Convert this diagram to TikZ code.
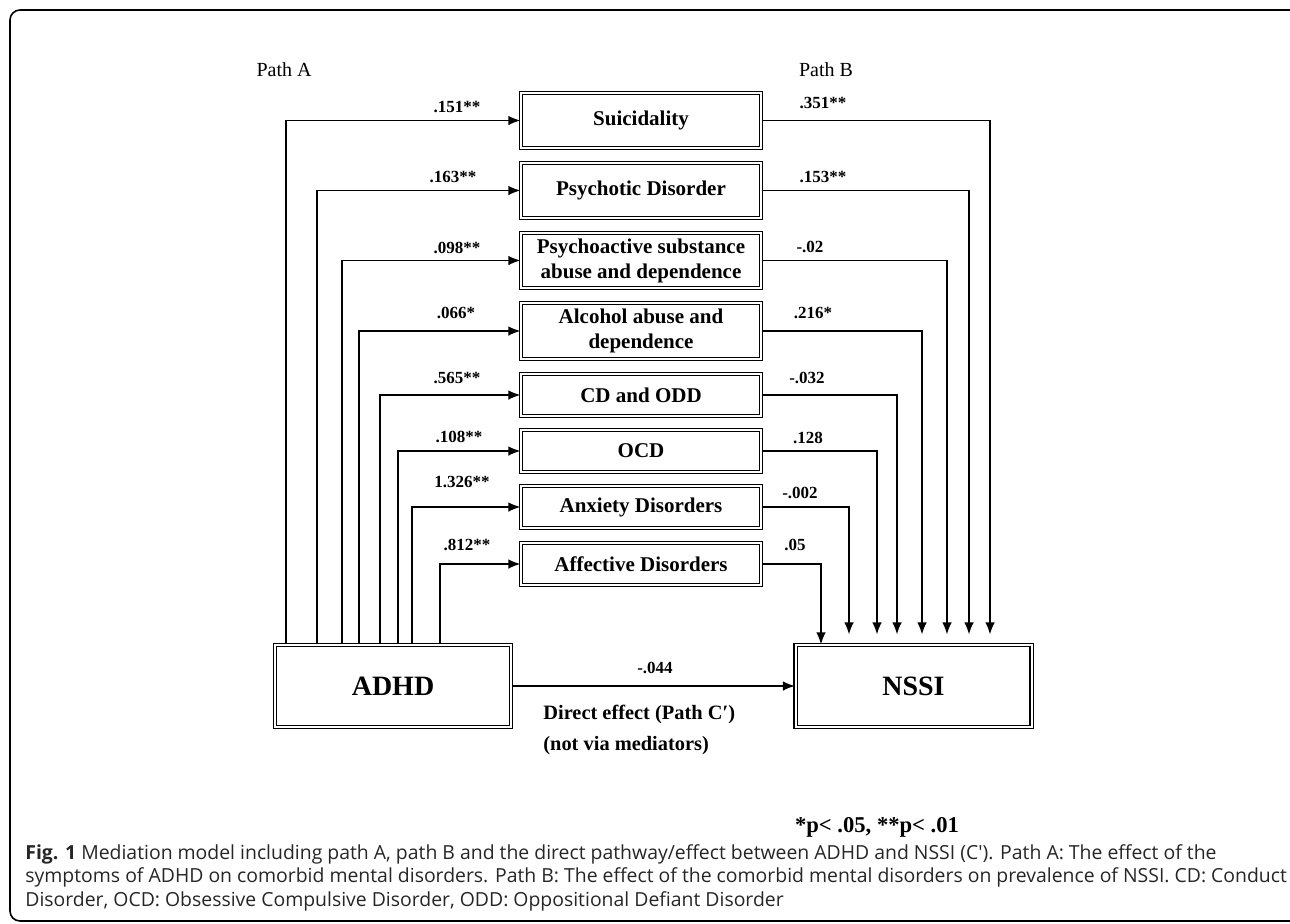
\documentclass[tikz,border=0pt]{standalone}
\usepackage{fontspec}
\setmainfont{Liberation Serif}
\newfontfamily\captionfont{Open Sans}
\usetikzlibrary{arrows.meta}

\tikzset{
  mediator/.style={
    draw,
    double,
    double distance=1pt,
    line width=0.6pt,
    minimum width=120pt,
    inner sep=0pt,
    align=center,
    font=\fontsize{10.5}{12.5}\selectfont\bfseries
  },
  outcome/.style={
    mediator,
    minimum width=118pt,
    minimum height=41pt,
    font=\fontsize{14}{16}\selectfont\bfseries
  },
  patha/.style={line width=0.75pt, -{Latex[length=6pt,width=4.8pt]}},
  pathb/.style={patha, shorten >=5pt},
  coef/.style={inner sep=0pt, font=\fontsize{8.5}{10}\selectfont\bfseries},
  pathtitle/.style={inner sep=0pt, font=\fontsize{10}{12}\selectfont}
}

\begin{document}
\begin{tikzpicture}[x=0.5pt, y=-0.5pt]
  \useasboundingbox (0,0) rectangle (1290,923);
  \draw[line width=0.8pt, rounded corners=5pt] (10,10) rectangle (1320,921);

  \node[pathtitle] (titlea) at (284,70) {Path A};
  \node[pathtitle] (titleb) at (826,70) {Path B};

  % exposure and outcome
  \node[outcome] (adhd) at (393,686) {ADHD};
  \node[outcome] (nssi) at (913.5,686) {NSSI};

  % mediators
  \foreach \name/\y/\h/\txt in {
      suic/120.5/27.5pt/Suicidality,
      psyc/190.5/27.5pt/Psychotic Disorder,
      subst/260.5/27.5pt/{Psychoactive substance\\abuse and dependence},
      alc/331/28pt/{Alcohol abuse and\\dependence},
      cdodd/395/21pt/CD and ODD,
      ocd/451/21pt/OCD,
      anx/507/21pt/Anxiety Disorders,
      aff/564/21pt/Affective Disorders}
    \node[mediator, minimum height=\h] (\name) at (641,\y) {\txt};

  % path A and path B
  \foreach \name/\xa/\xb/\gap in {
      suic/286/990/5pt, psyc/317/969/5pt, subst/342/947/5pt,
      alc/359/922/5pt, cdodd/380/897/5pt, ocd/398/877/5pt,
      anx/412/849/5pt, aff/440/821/0pt} {
    \draw[patha] (adhd.north -| \xa,0) |- (\name.west);
    \draw[pathb, shorten >=\gap] (\name.east) -| (nssi.north -| \xb,0);
  }

  \foreach \name/\xa/\ya/\ca/\xb/\yb/\cb in {
      suic/457/107/.151**/823/103/.351**,
      psyc/453/177/.163**/823/177/.153**,
      subst/457/248/.098**/810/247/-.02,
      alc/456/313/.066*/813/313/.216*,
      cdodd/457/378/.565**/807/378/-.032,
      ocd/459/437/.108**/808/438/.128,
      anx/462/482/1.326**/800/493/-.002,
      aff/467/545/.812**/795/545/.05} {
    \node[coef] (\name-a) at (\xa,\ya) {\ca};
    \node[coef] (\name-b) at (\xb,\yb) {\cb};
  }

  % direct effect
  \draw[patha] (adhd) -- (nssi);
  \node[coef] (direct) at (655,668) {-.044};
  \node[coef, anchor=west, font=\fontsize{10.2}{12}\selectfont\bfseries]
    (directa) at (543,714) {Direct effect (Path C′)};
  \node[coef, anchor=west, font=\fontsize{10.2}{12}\selectfont\bfseries]
    (directb) at (543,746) {(not via mediators)};

  \node[coef, font=\fontsize{11.3}{13}\selectfont\bfseries] (signif) at (877,827)
    {*p< .05, **p< .01};

  \node[anchor=north west, inner sep=0pt, align=left, text=black!85,
        font=\captionfont\fontsize{9.7}{11.8}\selectfont] (caption) at (25,844)
    {\textbf{Fig. 1} Mediation model including path A, path B and the direct pathway/effect between ADHD and NSSI (C′). Path A: The effect of the\\
     symptoms of ADHD on comorbid mental disorders. Path B: The effect of the comorbid mental disorders on prevalence of NSSI. CD: Conduct\\
     Disorder, OCD: Obsessive Compulsive Disorder, ODD: Oppositional Defiant Disorder};
\end{tikzpicture}
\end{document}
